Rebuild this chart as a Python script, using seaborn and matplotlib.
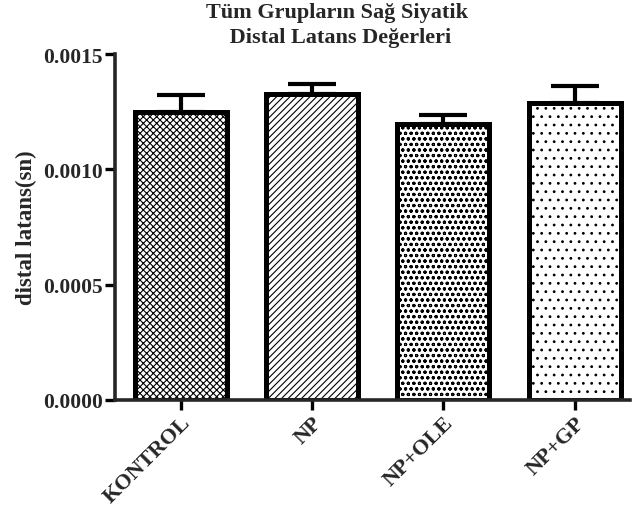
import matplotlib
matplotlib.use("Agg")
import matplotlib.pyplot as plt
import seaborn as sns
import pandas as pd
import numpy as np

groups = ["KONTROL", "NP", "NP+OLE", "NP+GP"]
means = [0.001249, 0.001327, 0.001197, 0.001288]
errs = [0.000073, 0.000043, 0.000039, 0.000073]
hatches = ["xxxxx", "/////", "ooo", ".."]
yticks = [0.0000, 0.0005, 0.0010, 0.0015]
ytick_labels = ["0.0000", "0.0005", "0.0010", "0.0015"]

sns.set_style("ticks")
plt.rcParams["font.family"] = ["Liberation Serif", "DejaVu Serif"]
plt.rcParams["hatch.linewidth"] = 0.8

df = pd.DataFrame({"group": groups, "value": means})

fig = plt.figure(figsize=(6.33, 5.10), dpi=100)
ax = fig.add_axes([0.182, 0.214, 0.813, 0.678])

sns.barplot(data=df, x="group", y="value", order=groups, color="white",
            edgecolor="black", linewidth=3.6, width=0.7, errorbar=None, ax=ax,
            zorder=2)
for p, h in zip(ax.patches, hatches):
    p.set_hatch(h)
    p.set_facecolor("white")

xs = np.arange(len(groups))
ax.errorbar(xs, means, yerr=[np.zeros(len(errs)), errs], fmt="none",
            ecolor="black", elinewidth=3.0, capsize=17.5, capthick=3.0, zorder=1)

ax.set_ylim(0, 0.0015)
ax.set_xlim(-0.5, 3.42)
ax.set_yticks(yticks)
ax.set_yticklabels(ytick_labels, fontsize=15.5, fontweight="bold")
ax.set_xticks(xs)
ax.set_xticklabels(groups, rotation=45, ha="right", rotation_mode="anchor",
                   fontsize=16, fontweight="bold")
ax.set_xlabel("")
ax.set_ylabel("distal latans(sn)", fontsize=16.5, fontweight="bold", labelpad=4)
for s in ["top", "right"]:
    ax.spines[s].set_visible(False)
for s in ["left", "bottom"]:
    ax.spines[s].set_linewidth(2.6)
ax.tick_params(axis="both", width=2.4, length=7, color="black", pad=2)

fig.text(0.533, 0.965, "Tüm Grupların Sağ Siyatik", ha="center", va="baseline",
         fontsize=16, fontweight="bold")
fig.text(0.533, 0.916, " Distal Latans Değerleri", ha="center", va="baseline",
         fontsize=16, fontweight="bold")

fig.savefig("out.png", dpi=100)
